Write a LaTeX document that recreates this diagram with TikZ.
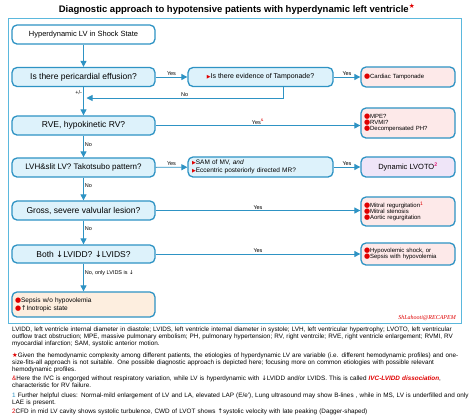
\documentclass[tikz,border=0pt]{standalone}
\usepackage{fontspec}
\setmainfont{Liberation Sans}
\newfontfamily\dvs{DejaVu Sans}
\newfontfamily\sigfont{Liberation Serif}
\usetikzlibrary{arrows.meta}
\hyphenpenalty=10000\relax
\definecolor{bblue}{HTML}{2E93C4}
\definecolor{fblue}{HTML}{5BB8DD}
\definecolor{lblue}{HTML}{DDF2FB}
\definecolor{pinkf}{HTML}{FDE9E9}
\definecolor{lavf}{HTML}{EFE5F8}
\definecolor{peachf}{HTML}{FDEEDF}
\definecolor{bred}{HTML}{E00000}
\definecolor{mag}{HTML}{E0207A}
\newcommand{\rdot}{{\color{bred}\fontsize{7}{7}\dvs ●}}
\newcommand{\rtri}{{\color{bred}\fontsize{5}{5}\dvs ▶}}
\newcommand{\dn}{{\dvs ↓}}
\newcommand{\up}{{\dvs ↑}}
\tikzset{
  qbox/.style={draw=bblue, line width=1.3pt, rounded corners=5pt, fill=lblue,
    minimum width=143pt, minimum height=19pt, inner sep=1pt,
    font=\fontsize{8.5}{9}\selectfont},
  rbox/.style={draw=bblue, line width=1.3pt, rounded corners=5pt, fill=pinkf,
    minimum width=94pt, text width=88pt, align=left, inner sep=2pt,
    font=\fontsize{6}{7}\selectfont},
  arr/.style={draw=bblue, line width=0.9pt, -{Triangle[length=6pt,width=6pt]}},
  lab/.style={font=\fontsize{5.5}{6}\selectfont, inner sep=1pt},
  fnote/.style={anchor=north west, text width=475pt, align=left, inner sep=0pt,
    font=\fontsize{6.35}{7}\selectfont}
}
\begin{document}
\begin{tikzpicture}[x=1pt,y=-1pt]
\useasboundingbox (0,0) rectangle (474,416);
\fill[white] (0,0) rectangle (474,416);
% title
\node[font=\bfseries\fontsize{9.5}{10}\selectfont, inner sep=0pt] (title) at (237,9)
  {Diagnostic approach to hypotensive patients with hyperdynamic left ventricle\textsuperscript{\color{bred}\dvs ★}};
% frame
\draw[fblue, line width=0.7pt] (8,18) rectangle (461,323);
% nodes
\node[qbox, fill=white, font=\fontsize{7.5}{8}\selectfont] (start) at (83.5,34.5) {Hyperdynamic LV in Shock State};
\node[qbox] (peri) at (83.5,77) {Is there pericardial effusion?};
\node[qbox, minimum width=145pt, font=\fontsize{7}{8}\selectfont] (tamp) at (260.5,77) {\rtri Is there evidence of Tamponade?};
\node[rbox, minimum height=20pt] (ct) at (408,77) {\rdot Cardiac Tamponade};
\node[qbox] (rve) at (83.5,125.5) {RVE, hypokinetic RV?};
\node[rbox, minimum height=30pt] (rvres) at (408,123) {\rdot MPE?\\[-1pt]\rdot RVMI?\\[-1pt]\rdot Decompensated PH?};
\node[qbox, font=\fontsize{8}{9}\selectfont] (lvh) at (83.5,167.5) {LVH\&slit LV? Takotsubo pattern?};
\node[qbox, minimum width=145pt, minimum height=20pt, text width=137pt, align=left, font=\fontsize{6.5}{7.5}\selectfont] (sam) at (260.5,167) {\rtri SAM of MV, \textit{and}\\\rtri Eccentric posteriorly directed MR?};
\node[qbox, fill=lavf, minimum width=94pt, minimum height=20pt, font=\fontsize{7.5}{8}\selectfont] (lvoto) at (408,167) {Dynamic LVOTO\textsuperscript{\color{mag}\bfseries 2}};
\node[qbox] (gross) at (83.5,210.5) {Gross, severe valvular lesion?};
\node[rbox, minimum height=29pt] (valv) at (408,211.5) {\rdot Mitral regurgitation\textsuperscript{\color{bred}1}\\[-1pt]\rdot Mitral stenosis\\[-1pt]\rdot Aortic regurgitation};
\node[qbox, minimum height=18pt] (both) at (83.5,254) {Both \dn LVIDD? \dn LVIDS?};
\node[rbox, minimum height=22pt] (hypo) at (408,254) {\rdot Hypovolemic shock, or\\[-1pt]\rdot Sepsis with hypovolemia};
\node[rbox, fill=peachf, minimum width=143pt, text width=137pt, minimum height=25pt, font=\fontsize{6.5}{8}\selectfont] (sepsis) at (83.5,304.5) {\rdot Sepsis w/o hypovolemia\\\rdot \up Inotropic state};
% connectors
\draw[arr] (start) -- (peri);
\draw[arr] (peri) -- node[lab, above] {Yes} (tamp);
\draw[arr] (tamp) -- node[lab, above] {Yes} (ct);
\coordinate (nojoin) at (83.5,98);
\draw[arr] (tamp.south -| 283,0) |- node[lab, above, pos=0.75] {No} ([xshift=3pt]nojoin);
\draw[arr] (peri) -- node[lab, left, pos=0.2] {+/-} (rve);
\draw[arr] (rve.east) -- node[lab, above] {Yes\textsuperscript{\color{bred}\&}} (rve.east -| rvres.west);
\draw[arr] (rve) -- node[lab, right, pos=0.4] {No} (lvh);
\draw[arr] (lvh) -- node[lab, above] {Yes} (sam);
\draw[arr] (sam) -- node[lab, above] {Yes} (lvoto);
\draw[arr] (lvh) -- node[lab, right, pos=0.35] {No} (gross);
\draw[arr] (gross.east) -- node[lab, above] {Yes} (gross.east -| valv.west);
\draw[arr] (gross) -- node[lab, right, pos=0.35] {No} (both);
\draw[arr] (both) -- node[lab, above] {Yes} (hypo);
\draw[arr] (both) -- node[lab, right, pos=0.35] {No, only LVIDS is \dn} (sepsis);
% signature
\node[anchor=east, inner sep=0pt, font=\sigfont\itshape\fontsize{6}{6}\selectfont, text=bred] (sig) at (456,318) {ShLahooti@RECAPEM};
% footnotes
\node[fnote] (fn1) at (12,327) {LVIDD, left ventricle internal diameter in diastole; LVIDS, left ventricle internal diameter in systole; LVH, left ventricular hypertrophy; LVOTO, left ventricular\\outflow tract obstruction; MPE, massive pulmonary embolism; PH, pulmonary hypertension; RV, right ventrcile; RVE, right ventricle enlargement; RVMI, RV\\myocardial infarction; SAM, systolic anterior motion.};
\node[fnote] (fn2) at (12,353) {\hangindent=6pt\hangafter=1{\color{bred}\dvs ★}Given the hemodynamic complexity among different patients, the etiologies of hyperdynamic LV are variable (i.e. different hemodynamic profiles) and one-\\size-fits-all approach is not suitable. One possible diagnostic approach is depicted here; focusing more on common etiologies with possible relevant\\hemodynamic profiles.};
\node[fnote] (fn3) at (12,376) {\hangindent=6pt\hangafter=1{\color{bred}\&}Here the IVC is engorged without respiratory variation, while LV is hyperdynamic with \dn LVIDD and/or LVIDS. This is called {\color{bred}\bfseries\itshape IVC-LVIDD dissociation},\\characteristic for RV failure.};
\node[fnote] (fn4) at (12,393) {\hangindent=6pt\hangafter=1{\color{bblue}1} Further helpful clues: Normal-mild enlargement of LV and LA, elevated LAP (E/e'), Lung ultrasound may show B-lines , while in MS, LV is underfilled and only\\LAE is present.};
\node[fnote] (fn5) at (12,409) {{\color{bred}2}CFD in mid LV cavity shows systolic turbulence, CWD of LVOT shows \up systolic velocity with late peaking (Dagger-shaped)};
\end{tikzpicture}
\end{document}
